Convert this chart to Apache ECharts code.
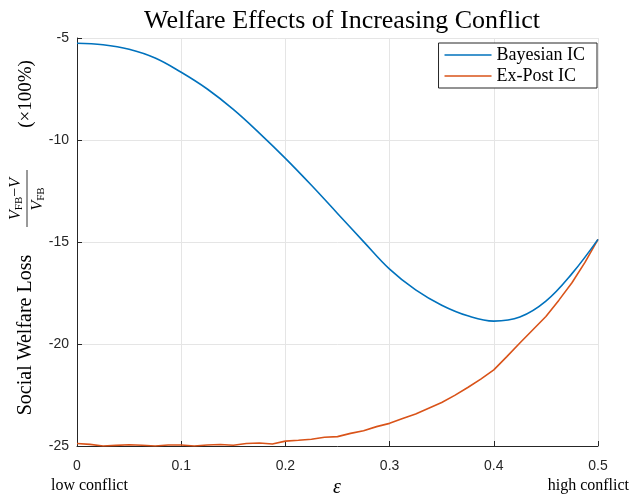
<!DOCTYPE html>
<html><head><meta charset="utf-8">
<script src="https://cdn.jsdelivr.net/npm/echarts@6/dist/echarts.min.js"></script>
<style>html,body{margin:0;padding:0;background:#fff}#c{width:631px;height:500px}</style>
</head><body><div id="c"></div>
<script>
// ---- data ----
const epsBayes = [0,0.025,0.05,0.075,0.1,0.125,0.15,0.175,0.2,0.225,0.25,0.275,0.3,0.325,0.35,0.375,0.4,0.425,0.45,0.475,0.5];
const bayesianIC = [-5.26,-5.33,-5.55,-5.98,-6.68,-7.5,-8.5,-9.66,-10.9,-12.22,-13.6,-14.98,-16.33,-17.35,-18.1,-18.62,-18.88,-18.68,-17.9,-16.55,-14.87];
const epsExPost = [0,0.0125,0.025,0.0375,0.05,0.0625,0.075,0.0875,0.1,0.1125,0.125,0.1375,0.15,0.1625,0.175,0.1875,0.2,0.2125,0.225,0.2375,0.25,0.2625,0.275,0.2875,0.3,0.3125,0.325,0.3375,0.35,0.3625,0.375,0.3875,0.4,0.4125,0.425,0.4375,0.45,0.4625,0.475,0.4875,0.5];
const exPostIC = [-24.88,-24.92,-25.0,-24.97,-24.94,-24.96,-25.0,-24.95,-24.95,-25.0,-24.95,-24.93,-24.96,-24.88,-24.85,-24.9,-24.76,-24.72,-24.67,-24.57,-24.54,-24.38,-24.25,-24.05,-23.89,-23.65,-23.43,-23.15,-22.87,-22.52,-22.13,-21.72,-21.27,-20.62,-19.95,-19.3,-18.65,-17.85,-17.0,-16.0,-14.87];
const xTicks = [0,0.1,0.2,0.3,0.4,0.5];
const yTicks = [-25,-20,-15,-10,-5];
const seriesNames = ['Bayesian IC','Ex-Post IC'];

const serif = 'Liberation Serif';
const sans = 'Liberation Sans';
const axisCol = '#262626';

const chart = echarts.init(document.getElementById('c'), null, {renderer:'canvas'});
chart.setOption({
  animation:false,
  backgroundColor:'#fff',
  title:{text:'Welfare Effects of Increasing Conflict', left:337, top:3, textAlign:'center',
    textStyle:{fontFamily:serif, fontSize:26, fontWeight:'normal', color:'#000'}},
  grid:{left:77, right:33, top:38, bottom:54},
  legend:{orient:'vertical', right:34, top:43, icon:'rect', itemWidth:47, itemHeight:1.5, itemGap:3,
    padding:[3,12,3,6], borderColor:axisCol, borderWidth:1, backgroundColor:'#fff', borderRadius:0,
    textStyle:{fontFamily:serif, fontSize:18, color:'#000', padding:[0,0,0,0]},
    data:seriesNames},
  xAxis:{type:'value', min:0, max:0.5, interval:0.1,
    axisLine:{lineStyle:{color:axisCol, width:1}},
    axisTick:{inside:true, length:5, lineStyle:{color:axisCol}},
    axisLabel:{fontFamily:sans, fontSize:14, color:axisCol, margin:13,
      formatter:v=>{const t=xTicks.find(x=>Math.abs(x-v)<1e-9); return t===undefined?'':String(t);}},
    splitLine:{show:true, lineStyle:{color:'#e5e5e5', width:1}}},
  yAxis:{type:'value', min:-25, max:-5, interval:5,
    axisLine:{show:true, lineStyle:{color:axisCol, width:1}},
    axisTick:{show:true, inside:true, length:5, lineStyle:{color:axisCol}},
    axisLabel:{fontFamily:sans, fontSize:14, color:axisCol, margin:8,
      formatter:v=>{const t=yTicks.find(x=>Math.abs(x-v)<1e-9); return t===undefined?'':String(t);}},
    splitLine:{show:true, lineStyle:{color:'#e5e5e5', width:1}}},
  series:[
    {name:seriesNames[0], type:'line', showSymbol:false, smooth:0.4, data:epsBayes.map((x,i)=>[x,bayesianIC[i]]),
      lineStyle:{color:'#0072BD', width:1.6}, itemStyle:{color:'#0072BD'}, z:3},
    {name:seriesNames[1], type:'line', showSymbol:false, data:epsExPost.map((x,i)=>[x,exPostIC[i]]),
      lineStyle:{color:'#D95319', width:1.6}, itemStyle:{color:'#D95319'}, z:2}
  ],
  graphic:[
    {type:'text', left:51, top:478, style:{text:'low conflict', fontFamily:serif, fontSize:16, fill:'#000'}},
    {type:'text', right:2, top:478, style:{text:'high conflict', fontFamily:serif, fontSize:16, fill:'#000'}},
    {type:'text', x:337, y:478, style:{text:'ε', fontFamily:serif, fontStyle:'italic', fontSize:20, fill:'#000', align:'center'}},
    {type:'group', x:27, y:242, rotation:Math.PI/2, children:[
      {type:'text', x:-93, y:-1, style:{text:'Social Welfare Loss', fontFamily:serif, fontSize:20, fill:'#000', align:'center', verticalAlign:'middle'}},
      {type:'text', x:43, y:-11, style:{
        text:'{i|V}{s|FB}{n|−}{i|V}', align:'center', verticalAlign:'middle',
        rich:{i:{fontFamily:serif, fontStyle:'italic', fontSize:16, fill:'#000'},
              s:{fontFamily:serif, fontSize:11, fill:'#000', padding:[7,0,0,0]},
              n:{fontFamily:serif, fontSize:16, fill:'#000'}}}},
      {type:'line', shape:{x1:15, y1:0, x2:72, y2:0}, style:{stroke:'#000', lineWidth:0.8}},
      {type:'text', x:43, y:11, style:{
        text:'{i|V}{s|FB}', align:'center', verticalAlign:'middle',
        rich:{i:{fontFamily:serif, fontStyle:'italic', fontSize:16, fill:'#000'},
              s:{fontFamily:serif, fontSize:11, fill:'#000', padding:[7,0,0,0]}}}},
      {type:'text', x:148, y:-1, style:{text:'(×100%)', fontFamily:serif, fontSize:19, fill:'#000', align:'center', verticalAlign:'middle'}}
    ]}
  ]
});
</script></body></html>
